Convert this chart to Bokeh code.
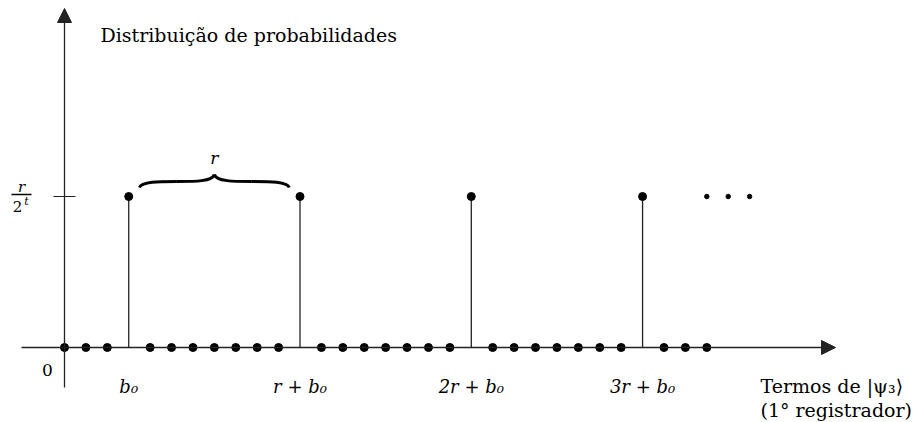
from bokeh.plotting import figure
from bokeh.models import Range1d, Arrow, NormalHead, Label
from bokeh.embed import file_html
from bokeh.resources import INLINE
from bokeh.core.properties import value

# ---- data ----
positions = list(range(31))
probabilities = [0, 0, 0, 1, 0, 0, 0, 0, 0, 0, 0, 1, 0, 0, 0, 0, 0, 0, 0, 1,
                 0, 0, 0, 0, 0, 0, 0, 1, 0, 0, 0]
peak_labels = ["b₀", "r + b₀", "2r + b₀", "3r + b₀"]
ellipsis_x = [30, 31, 32]
y_tick = 1
title_text = "Distribuição de probabilidades"
xlabel_line1 = "Termos de |ψ₃⟩"
xlabel_line2 = "(1° registrador)"
origin_label = "0"
brace_label = "r"

peak_x = [x for x, p in zip(positions, probabilities) if p > 0]
peak_y = [p for p in probabilities if p > 0]
zero_x = [x for x, p in zip(positions, probabilities) if p == 0]
zero_y = [p for p in probabilities if p == 0]

# ---- layout (pixel scale) ----
W, H = 920, 422
XS, X0 = 21.41, 64.0      # px per x unit, canvas px of x=0
YS, Y0 = 151.0, 347.0     # px per y unit, canvas px of y=0 from top

def dx(px):
    return px / XS

def dy(px):
    return px / YS

FONT = "DejaVu Serif"
INK = "#222222"

p = figure(width=W, height=H, output_backend="svg", toolbar_location=None,
           x_range=Range1d(-X0 / XS, (W - X0) / XS),
           y_range=Range1d(-(H - Y0) / YS, Y0 / YS),
           x_axis_type=None, y_axis_type=None, min_border=0,
           outline_line_color=None)
p.grid.visible = False
p.background_fill_color = "white"

# axes with arrow heads
p.add_layout(Arrow(end=NormalHead(size=14, fill_color=INK, line_color=INK),
                   x_start=-dx(43), y_start=0, x_end=dx(771), y_end=0,
                   line_color=INK, line_width=1.3))
p.add_layout(Arrow(end=NormalHead(size=14, fill_color=INK, line_color=INK),
                   x_start=0, y_start=-dy(40), x_end=0, y_end=dy(339),
                   line_color=INK, line_width=1.3))

# y tick
p.scatter([0], [y_tick], marker="dash", size=22, line_color=INK, line_width=1.2)

# stems
p.segment(x0=peak_x, y0=[0] * len(peak_x), x1=peak_x, y1=peak_y,
          line_color=INK, line_width=1.3)
p.scatter(peak_x, peak_y, size=8, color="black")
p.scatter(zero_x, zero_y, size=8, color="black")
p.scatter(ellipsis_x, [y_tick] * len(ellipsis_x), size=4.5, color="black")

# brace between first two peaks
bx0 = peak_x[0] + 0.5
bx1 = peak_x[1] - 0.5
bm = (bx0 + bx1) / 2
yb = y_tick + dy(9)
yf = y_tick + dy(15)
yt = y_tick + dy(22)
ql = (bx0 + bm) / 2
qr = (bm + bx1) / 2
p.bezier(x0=[bx0, ql, bx1, qr], y0=[yb, yf, yb, yf],
         x1=[ql, bm, qr, bm], y1=[yf, yt, yf, yt],
         cx0=[bx0 + 0.1, bm - 0.9, bx1 - 0.1, bm + 0.9], cy0=[yf, yf, yf, yf],
         cx1=[bx0 + 0.9, bm - 0.1, bx1 - 0.9, bm + 0.1], cy1=[yf, yf, yf, yf],
         line_color="black", line_width=3)
p.text(x=[bm], y=[y_tick], text=[brace_label], y_offset=-39,
       text_font=value(FONT), text_font_style="italic", text_font_size="17px",
       text_align="center", text_baseline="middle", text_color="black")

# fraction r / 2^t
p.text(x=[0], y=[y_tick], text=["r"], x_offset=-43, y_offset=-10,
       text_font=value(FONT), text_font_style="italic", text_font_size="15px",
       text_align="center", text_baseline="middle", text_color="black")
p.segment(x0=[-dx(53)], y0=[y_tick + dy(2)], x1=[-dx(33)], y1=[y_tick + dy(2)],
          line_color="black", line_width=1.3)
p.text(x=[0], y=[y_tick], text=["2"], x_offset=-47, y_offset=10,
       text_font=value(FONT), text_font_size="15px",
       text_align="center", text_baseline="middle", text_color="black")
p.text(x=[0], y=[y_tick], text=["t"], x_offset=-38, y_offset=5,
       text_font=value(FONT), text_font_style="italic", text_font_size="11px",
       text_align="center", text_baseline="middle", text_color="black")

# origin label and peak labels
p.text(x=[0], y=[0], text=[origin_label], x_offset=-17, y_offset=22,
       text_font=value(FONT), text_font_size="17px",
       text_align="center", text_baseline="middle", text_color="black")
p.text(x=peak_x, y=[0] * len(peak_x), text=peak_labels, y_offset=39,
       text_font=value(FONT), text_font_style="italic", text_font_size="18px",
       text_align="center", text_baseline="alphabetic", text_color="black")

# titles
p.add_layout(Label(x=100, y=H - 34, x_units="screen", y_units="screen",
                   text=title_text, text_font=FONT, text_font_size="19px",
                   text_baseline="alphabetic", text_color="black"))
p.add_layout(Label(x=760, y=H - 385, x_units="screen", y_units="screen",
                   text=xlabel_line1, text_font=FONT, text_font_size="19px",
                   text_baseline="alphabetic", text_color="black"))
p.add_layout(Label(x=760, y=H - 409, x_units="screen", y_units="screen",
                   text=xlabel_line2, text_font=FONT, text_font_size="19px",
                   text_baseline="alphabetic", text_color="black"))

open("out.html", "w").write(file_html(p, INLINE))
